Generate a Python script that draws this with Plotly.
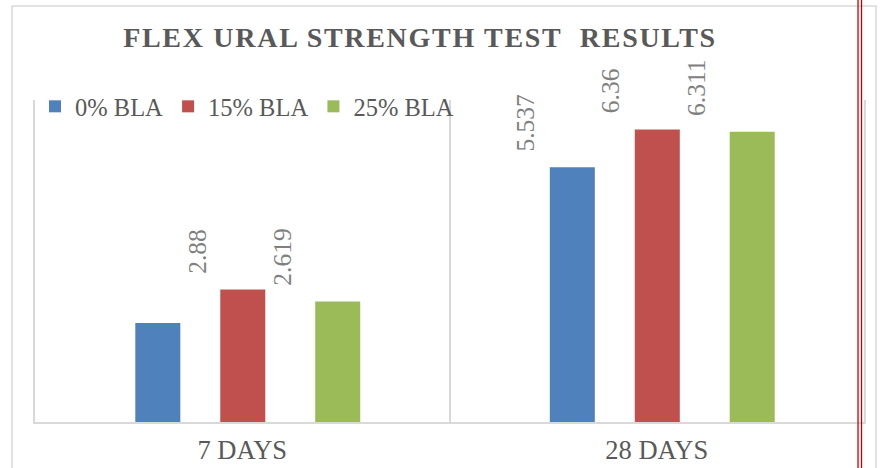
import plotly.graph_objects as go

# ---- data ----
categories = ["7 DAYS", "28 DAYS"]
series_names = ["0% BLA", "15% BLA", "25% BLA"]
bla0_values = [2.15, 5.537]
bla15_values = [2.88, 6.36]
bla25_values = [2.619, 6.311]
bla0_labels = ["", "5.537"]
bla15_labels = ["2.88", "6.36"]
bla25_labels = ["2.619", "6.311"]

colors = ["#4F81BD", "#C0504D", "#9BBB59"]
series_values = [bla0_values, bla15_values, bla25_values]
series_labels = [bla0_labels, bla15_labels, bla25_labels]
bar_width = 0.1086
bar_offsets = [-0.258, -0.053, 0.176]
label_dx = [-47, -46, -56]
px_per_cat = 829 / 2.0

SERIF = "Liberation Serif, Times New Roman, serif"
GRID = "#d9d9d9"

fig = go.Figure()
for name, vals, col, off in zip(series_names, series_values, colors, bar_offsets):
    fig.add_trace(go.Bar(
        x=categories, y=vals, name=name,
        marker=dict(color=col, line=dict(width=0)),
        width=bar_width, offset=off,
    ))

annotations = []
for vals, labs, off, dx in zip(series_values, series_labels, bar_offsets, label_dx):
    for cat, v, t in zip(categories, vals, labs):
        if not t:
            continue
        center_px = (off + bar_width / 2) * px_per_cat
        annotations.append(dict(
            x=cat, y=v, xref="x", yref="y", text=t, showarrow=False,
            textangle=-90, xanchor="center", yanchor="bottom",
            xshift=center_px + dx, yshift=14,
            font=dict(family=SERIF, size=25.5, color="#808080"),
        ))

shapes = [
    # outer chart border
    dict(type="rect", xref="paper", yref="paper", x0=-0.0277, x1=1.0145, y0=-0.3, y1=1.292,
         line=dict(color=GRID, width=1.5), layer="below"),
    # red double page border lines
    dict(type="line", xref="paper", yref="paper", x0=0.9928, x1=0.9928, y0=-0.3, y1=1.4,
         line=dict(color="#C00000", width=1.3)),
    dict(type="line", xref="paper", yref="paper", x0=0.9970, x1=0.9970, y0=-0.3, y1=1.4,
         line=dict(color="#C00000", width=1.3)),
]

fig.update_layout(
    width=880, height=468,
    margin=dict(l=35, r=16, t=100, b=46),
    paper_bgcolor="white", plot_bgcolor="white",
    barmode="overlay",
    title=dict(
        text='<b><span style="letter-spacing:1.7px">FLEX URAL STRENGTH TEST&nbsp; RESULTS</span></b>',
        x=420 / 880, xref="container", xanchor="center",
        y=1 - 37 / 468, yref="container", yanchor="middle",
        font=dict(family=SERIF, size=28, color="#595959"),
    ),
    legend=dict(
        orientation="h", x=0.0, xanchor="left", y=1.05, yanchor="top",
        font=dict(family=SERIF, size=24.5, color="#595959"),
        bgcolor="rgba(0,0,0,0)", itemwidth=30, tracegroupgap=0,
    ),
    xaxis=dict(
        type="category", range=[-0.5, 1.5], tickson="boundaries",
        showgrid=True, gridcolor=GRID, gridwidth=1.5,
        showline=True, linecolor=GRID, linewidth=1.5,
        ticks="", ticklabelstandoff=3, automargin=False,
        tickfont=dict(family=SERIF, size=26.5, color="#595959"),
    ),
    yaxis=dict(
        range=[0, 7], showgrid=False, zeroline=False, showticklabels=False,
        showline=True, mirror=True, linecolor=GRID, linewidth=1.5, ticks="",
        automargin=False,
    ),
    annotations=annotations,
    shapes=shapes,
    showlegend=True,
)

fig.write_html("out.html", config={"displayModeBar": False},
               post_script="document.body.style.margin='0';")
